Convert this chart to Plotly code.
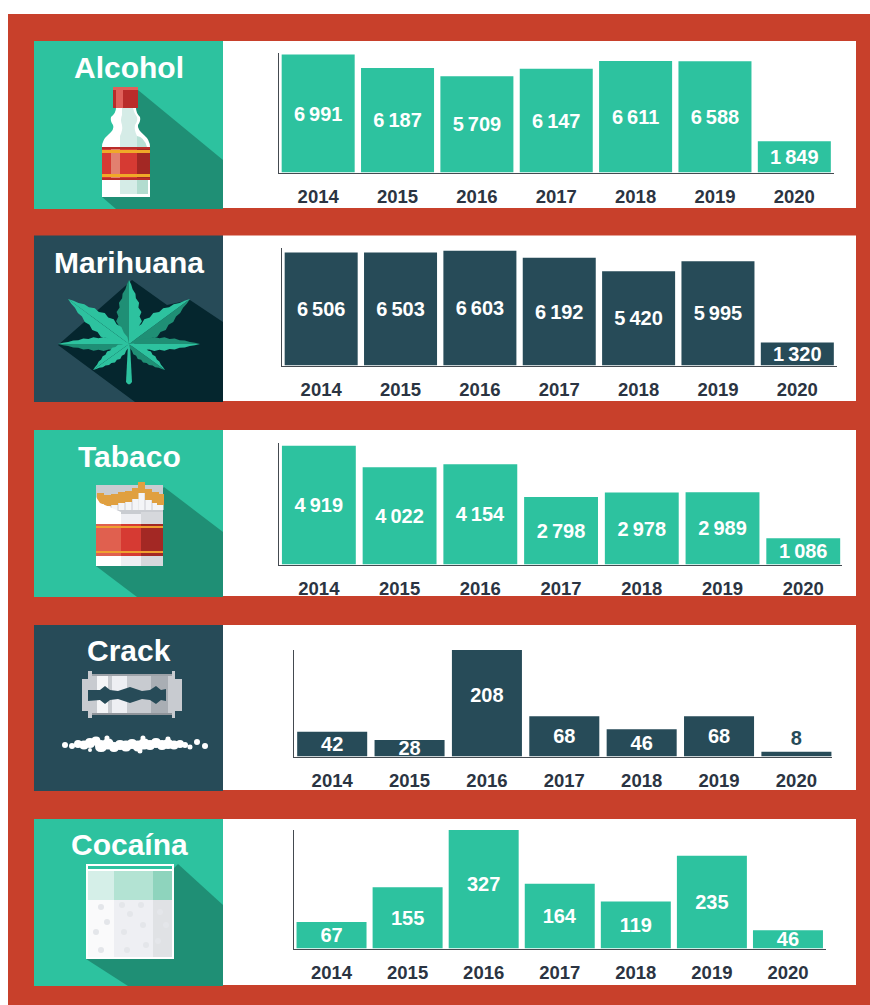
import re
import math
import plotly.graph_objects as go

W, H = 870, 1005
years = ["2014", "2015", "2016", "2017", "2018", "2019", "2020"]
alcohol = [6991, 6187, 5709, 6147, 6611, 6588, 1849]
marihuana = [6506, 6503, 6603, 6192, 5420, 5995, 1320]
tabaco = [4919, 4022, 4154, 2798, 2978, 2989, 1086]
crack = [42, 28, 208, 68, 46, 68, 8]
cocaina = [67, 155, 327, 164, 119, 235, 46]
names = ["Alcohol", "Marihuana", "Tabaco", "Crack", "Cocaína"]
title_offsets = [27, 27, 26, 25, 25]

GREEN, DARK, RED = "#2dc29f", "#274b58", "#c8402b"
SH_G, SH_D = "#1f8f75", "#05262e"

# series, colour, panel top, bottom, axis x0, x1, axis top, baseline, y-range top, x-range end, bar width
panels = [
    (alcohol, GREEN, 41, 209, 278.5, 834, 53, 172.5, 7080, 6.5, 0.92),
    (marihuana, DARK, 235.5, 402, 281.5, 837, 248, 365.5, 6760, 6.5, 0.92),
    (tabaco, GREEN, 430, 597, 278.5, 842, 443, 564.5, 5030, 6.48, 0.915),
    (crack, DARK, 625, 791, 293.5, 832, 650, 756.5, 180, 6.46, 0.905),
    (cocaina, GREEN, 819, 986, 293.5, 826, 830, 948.5, 300, 6.5, 0.92),
]

def fx(v): return v / W
def fy(v): return 1 - v / H

def to_paper(path):
    return re.sub(r"(-?[\d.]+),(-?[\d.]+)",
                  lambda m: f"{fx(float(m[1])):.5f},{fy(float(m[2])):.5f}", path)

shapes = []
def S(path, color):
    shapes.append(dict(type="path", xref="paper", yref="paper", layer="below",
                       path=to_paper(path), fillcolor=color, line=dict(width=0)))
def R(x0, y0, x1, y1, color):
    S(f"M{x0},{y0} L{x1},{y0} L{x1},{y1} L{x0},{y1} Z", color)
def C(cx, cy, r, color):
    S(f"M{cx-r},{cy} Q{cx-r},{cy-r} {cx},{cy-r} Q{cx+r},{cy-r} {cx+r},{cy} "
      f"Q{cx+r},{cy+r} {cx},{cy+r} Q{cx-r},{cy+r} {cx-r},{cy} Z", color)

def leaf(bx, by, tx, ty, wid, c1, c2):
    """Serrated leaflet, split along its midrib into two tones."""
    dx, dy = tx - bx, ty - by
    n = math.hypot(dx, dy)
    ox, oy = -dy / n, dx / n
    for sign, colr in ((1, c1), (-1, c2)):
        pts = [f"M{bx},{by}"]
        steps = 14
        for k in range(1, steps):
            t = k / steps
            hw = wid * math.sin(math.pi * t ** 0.75) * (1 if k % 2 else 0.82)
            pts.append(f"L{bx + dx*t + sign*ox*hw:.2f},{by + dy*t + sign*oy*hw:.2f}")
        pts.append(f"L{tx},{ty} Z")
        S(" ".join(pts), colr)

# frame and panels
R(8, 14, 870, 1005, RED)
for p in panels:
    col, y0, y1 = p[1], p[2], p[3]
    R(223, y0, 856, y1 - 1, "#ffffff")
    R(34, y0, 223, y1, col)

# bottle
S("M138,90 L223,160 L223,209 L116,209 L102,197 Z", SH_G)
BOTTLE = ("M116,108 L136,108 Q136,113 140,117 Q141,121 138,125 Q137,129 144,135 Q150,140 150,147 "
          "L150,197 L102,197 L102,147 Q102,140 108,135 Q115,129 113,125 Q110,121 111,117 Q116,113 116,108 Z")
S(BOTTLE, "#ffffff")
S("M122,108 L133,108 Q134,113 137,117 Q138,121 135,125 Q134,130 137,136 L137,147 L120,147 L120,136 "
  "Q123,130 122,125 Q120,120 122,115 Z", "#d5ece7")
S("M137,136 Q144,137 147,147 L137,147 Z", "#b8e0d5")
R(120, 180, 137, 194, "#d5ece7")
R(137, 180, 148, 194, "#b2dccf")
R(102, 147, 150, 180, "#d63a33")
R(111, 147, 120, 180, "#e2806f")
R(137, 147, 150, 180, "#a32824")
R(102, 147, 150, 149, "#b92c2a")
R(102, 150, 150, 153, "#f0a928")
R(102, 174, 150, 177, "#f0a928")
R(102, 178, 150, 180, "#b92c2a")
R(113, 87, 138, 108, "#b92c2a")
R(116, 90, 123, 108, "#e0605a")
R(113, 87, 138, 90, "#e0605a")

# cannabis
S("M132,280 L167,305 L190,300 L223,322 L223,402 L135,402 L58,345 Z", SH_D)
cx, cy = 129, 344
S("M128,344 L130,344 L132,382 Q129,387 126,382 Z", GREEN)
for t, w, a, b in [((129, 280), 13, GREEN, SH_G), ((68, 299), 11, GREEN, GREEN),
                   ((190, 299), 11, SH_G, GREEN), ((58, 344), 7, GREEN, SH_G),
                   ((200, 344), 7, GREEN, SH_G), ((93, 370), 7, GREEN, GREEN),
                   ((165, 370), 7, SH_G, GREEN)]:
    leaf(cx, cy, t[0], t[1], w, a, b)

# cigarettes
S("M164,487 L223,532 L223,597 L137,597 L96,566 Z", SH_G)
R(96, 485, 163, 566, "#c9ccd1")
for x0, top in [(97, 493), (104, 495), (111, 494), (118, 492), (125, 491), (132, 488),
                (138, 482), (145, 489), (152, 492), (157, 494)]:
    R(x0 + 0.5, top, x0 + 6.5, 510, "#f4f5f7")
    R(x0, top, x0 + 7, top + 11, "#e0a040")
S("M96,497 L100,503 L112,508 L121,512 L121,566 L96,566 Z", "#ffffff")
R(121, 514, 141, 566, "#eeeff3")
R(141, 512, 163, 566, "#d6d8dc")
R(96, 524, 121, 556, "#e0604f")
R(121, 524, 141, 556, "#d63a33")
R(141, 524, 163, 556, "#a32824")
R(96, 526, 163, 528, "#f0a030")
R(96, 551, 163, 553, "#f0a030")

# razor blade and powder
S("M88,671 L92,671 L92,674 L172,674 L172,671 L175,671 L175,679 L182,679 L182,711 L175,711 L175,718 "
  "L172,718 L172,715 L92,715 L92,718 L88,718 L88,711 L82,711 L82,679 L88,679 Z", "#c8cbd0")
R(97, 674, 108, 715, "#f4f5f7")
R(112, 674, 127, 715, "#eeeff3")
R(151, 674, 168, 715, "#a9aeb4")
R(92, 674, 172, 676, "#9da2a8")
R(92, 713, 172, 715, "#8f949a")
S("M88,690 L100,690 L105,686 L110,690 L118,691 L130,687 L142,691 L150,690 L156,686 L161,690 L166,689 "
  "L166,701 L161,700 L156,704 L150,700 L142,699 L130,703 L118,699 L110,700 L105,704 L100,700 L88,701 Z", DARK)
for x, y, r in [(72, 746, 3), (78, 744, 4), (84, 745, 4.5), (90, 743, 5), (96, 741, 4.5), (101, 746, 6),
                (108, 744, 5.5), (114, 747, 5), (120, 745, 5), (126, 746, 5.5), (132, 744, 5), (138, 746, 5.5),
                (144, 744, 5.5), (150, 745, 5), (156, 743, 5), (162, 745, 5), (168, 744, 5), (174, 745, 4.5),
                (180, 744, 4), (185, 745, 3), (190, 747, 2.5), (65, 745, 3), (197, 742, 3), (205, 746, 3),
                (107, 738, 2.5), (143, 738, 2.5), (140, 751, 2.5), (168, 739, 2.5), (90, 750, 2)]:
    C(x, y, r, "#ffffff")

# bag
S("M178,864 L223,905 L223,986 L128,986 L86,959 Z", SH_G)
R(86, 864, 174, 959, "#ffffff")
R(88, 871, 114, 900, "#d5efe8")
R(114, 871, 153, 900, "#b3e3d3")
R(153, 871, 172, 900, "#8ed4bd")
R(88, 866, 172, 869, GREEN)
R(88, 900, 114, 957, "#fafafb")
R(114, 900, 153, 957, "#eeeff3")
R(153, 900, 172, 957, "#e0e2e5")
for c in [(101, 907), (122, 905), (141, 905), (130, 914), (107, 922), (143, 925), (124, 932),
          (160, 912), (166, 925), (146, 945), (127, 950), (101, 950), (158, 941), (96, 932)]:
    C(c[0], c[1], 3, "#e4e6ea")

fig = go.Figure()
layout = {}
for i, (vals, col, _y0, _y1, ax0, ax1, atop, base, ymax, xend, bw) in enumerate(panels, 1):
    xn, yn = ("x", "y") if i == 1 else (f"x{i}", f"y{i}")
    small = [v < ymax * 0.05 for v in vals]
    fig.add_trace(go.Bar(
        x=years, y=vals, xaxis=xn, yaxis=yn, width=bw, marker=dict(color=col, line=dict(width=0)),
        text=[f"{v:,}".replace(",", "\u2009") for v in vals],
        textposition=["outside" if s else "inside" for s in small],
        insidetextanchor="middle", textangle=0, constraintext="none", cliponaxis=True,
        insidetextfont=dict(family="Liberation Sans", size=20, color="#ffffff"),
        outsidetextfont=dict(family="Liberation Sans", size=20, color=DARK),
        texttemplate="<b>%{text}</b>", hoverinfo="x+y", showlegend=False,
    ))
    sx = "" if i == 1 else str(i)
    layout["xaxis" + sx] = dict(
        domain=[fx(ax0), fx(ax1)], anchor=yn, type="category", range=[-0.5, xend],
        showline=True, linecolor="#444a50", linewidth=1.2, showgrid=False, ticks="",
        ticklabelstandoff=7, tickfont=dict(family="Liberation Sans", size=18.5, color="#2b3442"),
        tickprefix="<b>", ticksuffix="</b>", fixedrange=True, zeroline=False)
    layout["yaxis" + sx] = dict(
        domain=[fy(base), fy(atop)], anchor=xn, range=[0, ymax],
        showline=True, linecolor="#444a50", linewidth=1.2, showgrid=False, ticks="",
        showticklabels=False, fixedrange=True, zeroline=False)

annotations = []
for name, p, off in zip(names, panels, title_offsets):
    annotations.append(dict(
        text=f"<b>{name}</b>", xref="paper", yref="paper", x=fx(129), y=fy(p[2] + off),
        xanchor="center", yanchor="middle", showarrow=False,
        font=dict(family="Liberation Sans", size=30, color="#ffffff")))

fig.update_layout(**layout, width=W, height=H, margin=dict(l=0, r=0, t=0, b=0, pad=0),
                  paper_bgcolor="#ffffff", plot_bgcolor="rgba(0,0,0,0)",
                  shapes=shapes, annotations=annotations, showlegend=False)
fig.write_html("out.html", config=dict(displayModeBar=False),
               post_script="document.body.style.margin='0';document.body.style.overflow='hidden';")
